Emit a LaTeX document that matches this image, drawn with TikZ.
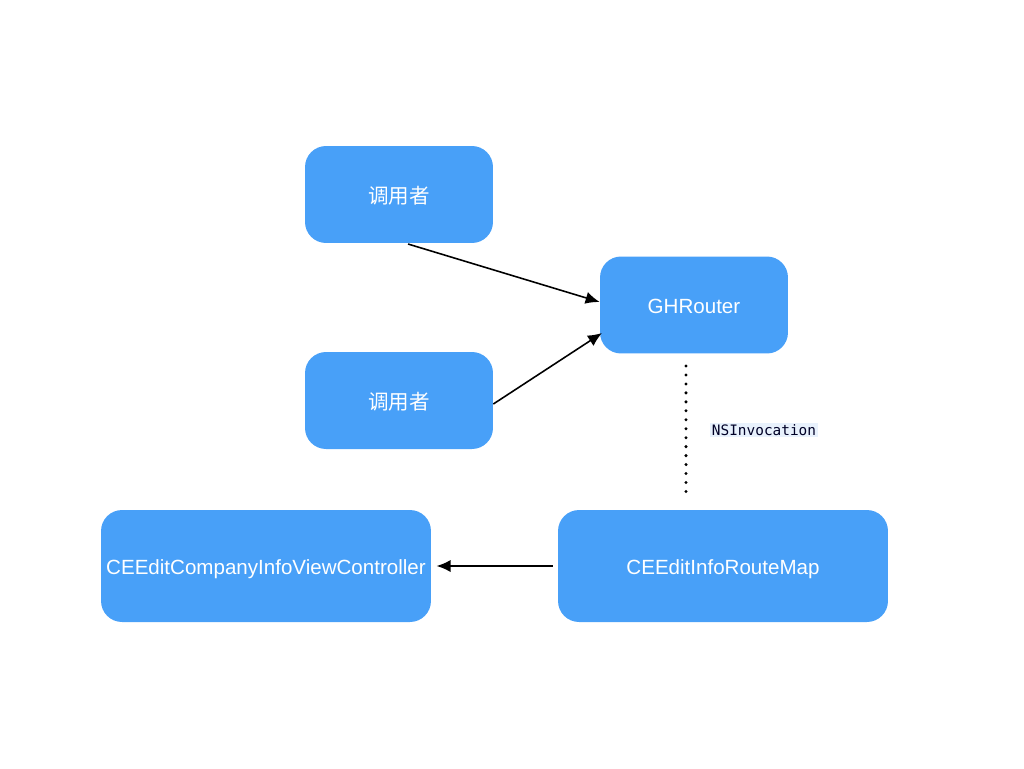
\documentclass[tikz,border=0pt]{standalone}
\usepackage{fontspec}
\setmainfont{Liberation Sans}
\setmonofont{DejaVu Sans Mono}
\newfontfamily\cjk{Noto Sans CJK SC}
\usetikzlibrary{arrows.meta}
\definecolor{boxblue}{HTML}{48A0F8}
\definecolor{codebg}{HTML}{E8F1FC}
\begin{document}
\begin{tikzpicture}[x=0.02cm,y=-0.02cm,
    box/.style={draw=none,fill=boxblue,rounded corners=0.42cm,text=white,
        font=\fontsize{11.7}{13}\selectfont,inner sep=0pt,text height=10pt,text depth=0pt},
    conn/.style={line width=0.9pt,-{Latex[length=8pt,width=7pt]}}]
\useasboundingbox (0,0) rectangle (1024,768);
            \node[box,minimum width=3.76cm,minimum height=1.94cm] (caller1) at (399,194.5) {\cjk 调用者};
            \node[box,minimum width=3.76cm,minimum height=1.94cm] (caller2) at (399,400.5) {\cjk 调用者};
            \node[box,minimum width=3.76cm,minimum height=1.94cm] (router) at (694,305) {GHRouter};
            \node[box,minimum width=6.6cm,minimum height=2.24cm] (vc) at (266,566) {CEEditCompanyInfoViewController};
            \node[box,minimum width=6.6cm,minimum height=2.24cm] (map) at (723,566) {CEEditInfoRouteMap};
            \coordinate (dottop) at (686,366);
            \coordinate (dotbot) at (686,494);
            \node[fill=codebg,inner sep=1pt,font=\ttfamily\fontsize{8.2}{10}\selectfont,text=black!85!blue] (inv) at (764,430) {NSInvocation};

            \draw[conn] (408,244) -- (router.west |- 0,302);
            \draw[conn] (caller2.east |- 0,404) -- (602,333);
            \draw[conn] (map.west |- 0,566) ++(-5,0) -- ([xshift=3]vc.east);
            \draw[line width=1.9pt,line cap=round,dash pattern=on 0pt off 5.1pt] (dottop) -- (dotbot);
\end{tikzpicture}
\end{document}
